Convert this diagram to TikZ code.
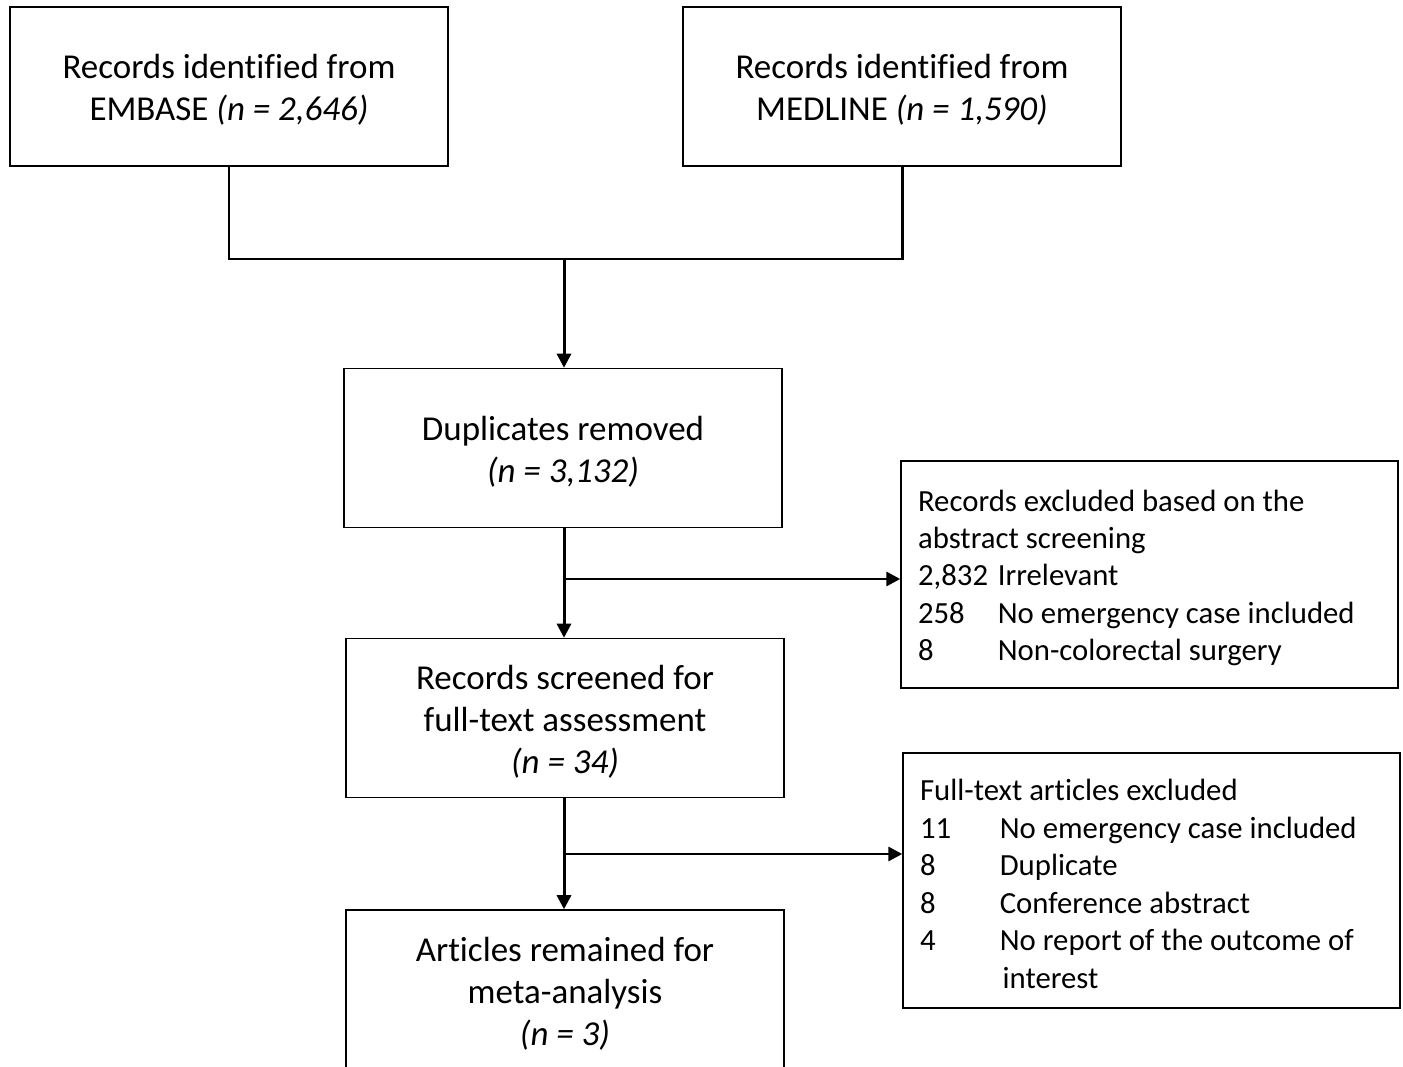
\documentclass[tikz,border=0pt]{standalone}
\usepackage{fontspec}
\setmainfont{Carlito}[Ligatures=CommonOff]
\usetikzlibrary{arrows.meta}
\newcommand{\topstrut}[1]{\rule{0pt}{#1}}
\begin{document}
\begin{tikzpicture}[x=0.02cm,y=-0.02cm,
  box/.style={draw, line width=0.85pt, minimum width=8.76cm, minimum height=3.18cm,
    align=center, inner sep=0pt, font=\fontsize{19.9}{23.8}\selectfont},
  exbox/.style={draw, line width=0.85pt, minimum width=9.94cm, text width=9.26cm,
    inner xsep=0.34cm, inner ysep=0pt, align=flush left, font=\fontsize{17.5}{21.3}\selectfont},
  conn/.style={line width=1.7pt},
  arr/.style={conn, -{Triangle[length=8pt,width=8pt]}}
]
\clip (0,0) rectangle (1403,1067);
\fill[white] (0,0) rectangle (1403,1067);

\node[box] (emb) at (229,86.5) {\topstrut{18pt}Records identified from\\EMBASE \textit{(n = 2,646)}};
\node[box] (med) at (902,86.5) {\topstrut{18pt}Records identified from\\MEDLINE \textit{(n = 1,590)}};
\node[box] (dup) at (563,448) {\topstrut{18pt}Duplicates removed\\\textit{(n = 3,132)}};
\node[box] (scr) at (565,718) {\topstrut{18pt}Records screened for\\full-text assessment\\\textit{(n = 34)}};
\node[box, minimum height=3.2cm] (fin) at (565,990) {\topstrut{18pt}Articles remained for\\meta-analysis\\\textit{(n = 3)}};

\node[exbox, minimum height=4.54cm] (ex1) at (1149.5,574.5) {\topstrut{16pt}Records excluded based on the\\abstract screening\\\makebox[45.4pt][l]{2,832}Irrelevant\\\makebox[45.4pt][l]{258}No emergency case included\\\makebox[45.4pt][l]{8}Non-colorectal surgery};
\node[exbox, minimum height=5.1cm] (ex2) at (1151.5,880.5) {\topstrut{16pt}Full-text articles excluded\\\makebox[45.4pt][l]{11}No emergency case included\\\makebox[45.4pt][l]{8}Duplicate\\\makebox[45.4pt][l]{8}Conference abstract\\\makebox[45.4pt][l]{4}No report of the outcome of\\\hspace*{47pt}interest};

\coordinate (j1) at (564,259);
\coordinate (b1) at (564,579);
\coordinate (b2) at (564,854);

\draw[conn] (emb.south) -- (emb.south |- j1) -- (med.south |- j1) -- (med.south);
\draw[arr] (j1) -- (j1 |- dup.north);
\draw[arr] (dup.south -| j1) -- (j1 |- scr.north);
\draw[arr] (b1) -- (b1 -| ex1.west);
\draw[arr] (scr.south -| j1) -- (j1 |- fin.north);
\draw[arr] (b2) -- (b2 -| ex2.west);
\end{tikzpicture}
\end{document}
